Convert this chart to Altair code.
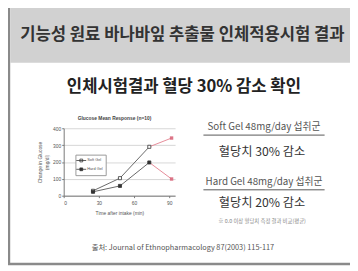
import altair as alt
import pandas as pd

# ---- text content ----
TITLE = "기능성 원료 바나바잎 추출물 인체적용시험 결과"
SUBTITLE = "인체시험결과 혈당 30% 감소 확인"
CHART_TITLE = "Glucose Mean Response (n=10)"
X_TITLE = "Time after intake (min)"
Y_TITLE = ["Change in Glucose", "(mg/dl)"]
GROUP1 = "Soft Gel 48mg/day 섭취군"
RESULT1 = "혈당치 30% 감소"
GROUP2 = "Hard Gel 48mg/day 섭취군"
RESULT2 = "혈당치 20% 감소"
NOTE = "※ 0.0 이상 혈당치 측정 결과 비교(평균)"
SOURCE = "출처: Journal of Ethnopharmacology 87(2003) 115-117"

# ---- chart data ----
SERIES = ["Soft Gel", "Hard Gel"]
TIMES = [25, 48, 73, 92]
SOFT_GEL = [29, 104, 290, 342]
HARD_GEL = [23, 58, 197, 99]
X_TICKS = [0, 30, 60, 90]
Y_TICKS = [0, 100, 200, 300, 400]

rows = []
for name, vals in zip(SERIES, [SOFT_GEL, HARD_GEL]):
    for i, (t, v) in enumerate(zip(TIMES, vals)):
        rows.append({"series": name, "time": t, "value": v, "idx": i})
df = pd.DataFrame(rows)
gray_df = df[df["idx"] <= 2]
red_df = df[df["idx"] >= 2]
red_pts = df[df["idx"] == 3]

KR = "Noto Sans CJK KR"
EN = "Liberation Sans"

base = alt.Chart(pd.DataFrame({"a": [0]}))


def txt(s, x, y, size, color, weight="normal", font=KR):
    return base.mark_text(
        fontSize=size, font=font, fontWeight=weight, color=color,
        align="center", baseline="middle"
    ).encode(x=alt.value(x), y=alt.value(y), text=alt.value(s))


border = base.mark_rect(fill="white", fillOpacity=0, stroke="#8a8a8a", strokeWidth=2.5).encode(
    x=alt.value(1), x2=alt.value(430), y=alt.value(-10), y2=alt.value(259))
bar = base.mark_rect(fill="#d1d1d1").encode(
    x=alt.value(2.3), x2=alt.value(430), y=alt.value(-5), y2=alt.value(53))

title = txt(TITLE, 178.5, 25, 17, "#333", "bold")
subtitle = txt(SUBTITLE, 180, 78, 17, "#222", "bold")
g1 = txt(GROUP1, 262, 119, 10, "#555")
u1 = base.mark_rule(color="#555", strokeWidth=1).encode(
    x=alt.value(200), x2=alt.value(324), y=alt.value(127))
r1 = txt(RESULT1, 260, 144, 12.5, "#333")
g2 = txt(GROUP2, 262, 175, 10, "#555")
u2 = base.mark_rule(color="#555", strokeWidth=1).encode(
    x=alt.value(200), x2=alt.value(324), y=alt.value(183))
r2 = txt(RESULT2, 260, 197, 12.5, "#333")
note = txt(NOTE, 260, 215, 5.5, "#888")
source = txt(SOURCE, 179, 243, 7.5, "#555")
ctitle = txt(CHART_TITLE, 109, 110, 5, "#444", "bold", EN)

xs = alt.Scale(domain=[0, 95], range=[57, 171], nice=False, zero=False)
ys = alt.Scale(domain=[0, 400], range=[189, 120], nice=False)

x_axis = alt.Axis(values=X_TICKS, offset=-74, title=X_TITLE, titleFontSize=5,
                  titleFont=EN, labelFont=EN, labelFontSize=5, tickSize=2,
                  labelPadding=3, titlePadding=5, domainColor="#777",
                  tickColor="#777", labelColor="#555", titleColor="#555",
                  titleFontWeight="normal", grid=False)
y_axis = alt.Axis(values=Y_TICKS, offset=-57, title=Y_TITLE, titleFontSize=5,
                  titleFont=EN, labelFont=EN, labelFontSize=5, tickSize=2,
                  labelPadding=1, titlePadding=3, domainColor="#777",
                  tickColor="#777", labelColor="#555", titleColor="#555",
                  titleFontWeight="normal", grid=True, gridColor="#c4c4c4",
                  gridWidth=0.7)

X = alt.X("time:Q", scale=xs, axis=x_axis)
Y = alt.Y("value:Q", scale=ys, axis=y_axis)

gray_lines = alt.Chart(gray_df).mark_line(color="#666", strokeWidth=1).encode(
    x=X, y=Y, detail="series:N",
)
red_lines = alt.Chart(red_df).mark_line(color="#e58a98", strokeWidth=1).encode(
    x=X, y=Y, detail="series:N",
)
LEG_SYMBOL = "M-1.6,0L1.6,0M-0.45,-0.45L0.45,-0.45L0.45,0.45L-0.45,0.45Z"
gray_pts = alt.Chart(gray_df).mark_point(
    filled=True, size=10, stroke="#333", strokeWidth=0.8, shape="square", opacity=1
).encode(
    x=X, y=Y,
    fill=alt.Fill("series:N", scale=alt.Scale(domain=SERIES, range=["white", "#333"]),
                  legend=alt.Legend(orient="none", legendX=69, legendY=147, title=None,
                                    symbolType=LEG_SYMBOL, symbolSize=40,
                                    symbolStrokeColor="#333", symbolStrokeWidth=0.8,
                                    labelFontSize=4, labelFont=EN, labelColor="#555",
                                    strokeColor="#999", fillColor="white", padding=2,
                                    rowPadding=1, labelOffset=2)),
)
red_points = alt.Chart(red_pts).mark_point(
    filled=True, size=12, color="#d9687c", shape="square", opacity=0.9
).encode(x=X, y=Y)

chart = alt.layer(
    border, bar, title, subtitle, g1, u1, r1, g2, u2, r2, note, source, ctitle,
    gray_lines, red_lines, gray_pts, red_points,
).properties(
    width=350, height=263, padding=0,
    autosize=alt.AutoSizeParams(type="none"),
).configure_view(stroke=None)

chart.save("out.html", embed_options={"renderer": "svg", "actions": False})
